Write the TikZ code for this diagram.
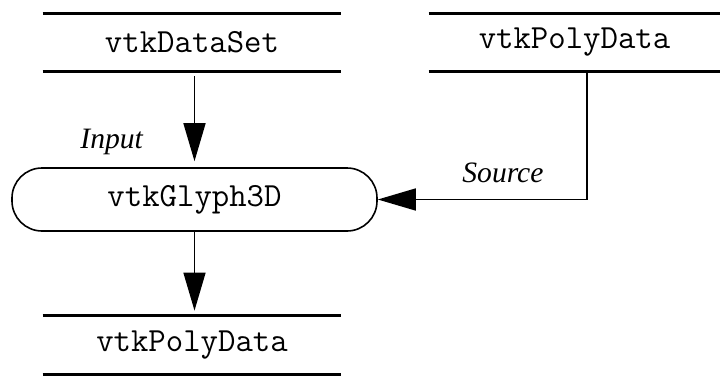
\documentclass[tikz,border=0pt]{standalone}
\usepackage{fontspec}
\setmainfont{Liberation Serif}
\usetikzlibrary{positioning, arrows.meta, calc}

\begin{document}
\begin{tikzpicture}[
    >={Triangle[length=19pt, width=11pt]},
    store/.style={minimum width=149pt, minimum height=28.5pt, inner sep=0pt, align=center, font=\fontsize{16.9pt}{19pt}\ttfamily},
    filter/.style={draw, line width=0.8pt, rounded corners=15pt, minimum width=182.5pt, minimum height=31.5pt, inner sep=0pt, font=\fontsize{16.9pt}{19pt}\ttfamily},
    bar/.style={line width=1.6pt},
    arrow/.style={->, line width=0.8pt},
    lbl/.style={font=\fontsize{14.8pt}{17pt}\itshape, inner sep=0pt}
]
\useasboundingbox (0,0) rectangle (360.5pt,188pt);
\node[store] (dataset) at (96pt,166.75pt) {vtkDataSet};
\node[store, minimum width=145.5pt] (polysrc) at (287.25pt,166.75pt) {vtkPolyData};
\node[filter] (glyph) at (97.25pt,88.25pt) {vtkGlyph3D};
\node[store, minimum height=29pt] (polyout) at (96pt,15.5pt) {vtkPolyData};
\foreach \n in {dataset, polysrc, polyout}
    \draw[bar] (\n.north west) -- (\n.north east) (\n.south west) -- (\n.south east);
\node[lbl, anchor=base west] (input) at (40pt,114pt) {Input};
\node[lbl, anchor=base west] (source) at (231pt,97pt) {Source};
\draw[arrow, shorten <=2.5pt, shorten >=3pt] (glyph.north |- dataset.south) -- (glyph.north);
\draw[arrow] ([xshift=6.25pt]polysrc.south) |- (glyph.east);
\draw[arrow, shorten >=2.5pt] (glyph.south) -- (glyph.south |- polyout.north);
\end{tikzpicture}
\end{document}
